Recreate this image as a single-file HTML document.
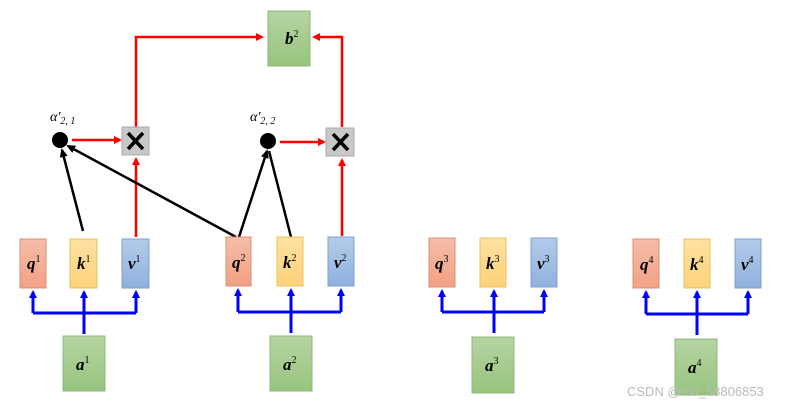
<!DOCTYPE html>
<html><head><style>
body{margin:0;background:#fff;}
svg text{font-family:"Liberation Serif",serif;}
</style></head><body>
<svg width="786" height="405" viewBox="0 0 786 405" xmlns="http://www.w3.org/2000/svg">
<defs>
<linearGradient id="gq" x1="0" y1="0" x2="0" y2="1"><stop offset="0" stop-color="#f5bda8"/><stop offset="1" stop-color="#f2a184"/></linearGradient>
<linearGradient id="gk" x1="0" y1="0" x2="0" y2="1"><stop offset="0" stop-color="#ffe1a0"/><stop offset="1" stop-color="#fdd27a"/></linearGradient>
<linearGradient id="gv" x1="0" y1="0" x2="0" y2="1"><stop offset="0" stop-color="#b4cbe9"/><stop offset="1" stop-color="#8fb1de"/></linearGradient>
<linearGradient id="ga" x1="0" y1="0" x2="0" y2="1"><stop offset="0" stop-color="#b5d4a2"/><stop offset="1" stop-color="#98c47f"/></linearGradient>
<marker id="ab" markerWidth="8" markerHeight="8" refX="6" refY="4" orient="auto" markerUnits="userSpaceOnUse"><path d="M0,0 L8,4 L0,8 Z" fill="#0000ff"/></marker>
<marker id="ar" markerWidth="8" markerHeight="8" refX="6" refY="4" orient="auto" markerUnits="userSpaceOnUse"><path d="M0,0 L8,4 L0,8 Z" fill="#ff0000"/></marker>
<marker id="ak" markerWidth="9" markerHeight="8" refX="7" refY="4" orient="auto" markerUnits="userSpaceOnUse"><path d="M0,0 L9,4 L0,8 Z" fill="#000"/></marker>
</defs>
<g fill="none" stroke="#0000ff" stroke-width="3">
<path d="M33,313 H136 M33,313 V292 M84,334 V292 M136,313 V292" marker-end="url(#ab)"/>
<path d="M33,313 V292" marker-end="url(#ab)"/><path d="M84,334 V292" marker-end="url(#ab)"/><path d="M136,313 V292" marker-end="url(#ab)"/>
<path d="M238,312 H341"/><path d="M238,312 V290" marker-end="url(#ab)"/><path d="M291,333 V290" marker-end="url(#ab)"/><path d="M341,312 V290" marker-end="url(#ab)"/>
<path d="M442,312 H544"/><path d="M442,312 V291" marker-end="url(#ab)"/><path d="M494,333 V291" marker-end="url(#ab)"/><path d="M544,312 V291" marker-end="url(#ab)"/>
<path d="M646,314 H748"/><path d="M646,314 V292" marker-end="url(#ab)"/><path d="M697,335 V292" marker-end="url(#ab)"/><path d="M748,314 V292" marker-end="url(#ab)"/>
</g>
<g fill="none" stroke="#ff0000" stroke-width="2.5">
<path d="M136,237 V159" marker-end="url(#ar)"/>
<path d="M136,127 V37 H262" marker-end="url(#ar)"/>
<path d="M342,127 V37 H314" marker-end="url(#ar)"/>
<path d="M72,140 H120" marker-end="url(#ar)"/>
<path d="M280,142 H324" marker-end="url(#ar)"/>
<path d="M342,236 V160" marker-end="url(#ar)"/>
</g>
<g fill="none" stroke="#000" stroke-width="2.5">
<path d="M83,231 L62,150" marker-end="url(#ak)"/>
<path d="M236,237 L68,146" marker-end="url(#ak)"/>
<path d="M239,237 L267,151" marker-end="url(#ak)"/>
<path d="M291,237 L269,151"/>
</g>
<circle cx="60" cy="140" r="8" fill="#000"/>
<circle cx="268" cy="141" r="8" fill="#000"/>
<g stroke="#aaa" fill="#c8c8c8"><rect x="122" y="127" width="27" height="28"/><rect x="326" y="128" width="28" height="28"/></g>
<g stroke="#000" stroke-width="3.5"><path d="M128,133 L143,149 M143,133 L128,149"/><path d="M333,134 L348,150 M348,134 L333,150"/></g>
<g font-style="italic" font-size="14"><text x="50" y="121">α′<tspan font-size="10" dy="3">2, 1</tspan></text><text x="250" y="121">α′<tspan font-size="10" dy="3">2, 2</tspan></text></g>
<g stroke-width="1">
<rect x="268" y="11" width="42" height="55" fill="url(#ga)" stroke="#8fb87a"/>
<rect x="20" y="239" width="26" height="49" fill="url(#gq)" stroke="#d99078"/>
<rect x="70" y="239" width="27" height="49" fill="url(#gk)" stroke="#e8c060"/>
<rect x="122" y="239" width="27" height="49" fill="url(#gv)" stroke="#7ea0cc"/>
<rect x="226" y="237" width="25" height="49" fill="url(#gq)" stroke="#d99078"/>
<rect x="277" y="237" width="26" height="49" fill="url(#gk)" stroke="#e8c060"/>
<rect x="328" y="237" width="26" height="49" fill="url(#gv)" stroke="#7ea0cc"/>
<rect x="429" y="238" width="26" height="49" fill="url(#gq)" stroke="#d99078"/>
<rect x="480" y="238" width="26" height="49" fill="url(#gk)" stroke="#e8c060"/>
<rect x="531" y="238" width="26" height="49" fill="url(#gv)" stroke="#7ea0cc"/>
<rect x="633" y="239" width="26" height="49" fill="url(#gq)" stroke="#d99078"/>
<rect x="684" y="239" width="26" height="49" fill="url(#gk)" stroke="#e8c060"/>
<rect x="735" y="239" width="26" height="49" fill="url(#gv)" stroke="#7ea0cc"/>
<rect x="63" y="336" width="42" height="55" fill="url(#ga)" stroke="#8fb87a"/>
<rect x="270" y="336" width="42" height="55" fill="url(#ga)" stroke="#8fb87a"/>
<rect x="472" y="337" width="42" height="56" fill="url(#ga)" stroke="#8fb87a"/>
<rect x="675" y="339" width="42" height="56" fill="url(#ga)" stroke="#8fb87a"/>
</g>
<g font-style="italic" font-weight="bold" font-size="17" fill="#000">
<text x="285" y="44">b<tspan font-size="10" font-weight="normal" font-style="normal" dy="-7">2</tspan></text>
<text x="27" y="269">q<tspan font-size="10" font-weight="normal" font-style="normal" dy="-7">1</tspan></text>
<text x="77" y="269">k<tspan font-size="10" font-weight="normal" font-style="normal" dy="-7">1</tspan></text>
<text x="128" y="269">v<tspan font-size="10" font-weight="normal" font-style="normal" dy="-7">1</tspan></text>
<text x="232" y="268">q<tspan font-size="10" font-weight="normal" font-style="normal" dy="-7">2</tspan></text>
<text x="283" y="268">k<tspan font-size="10" font-weight="normal" font-style="normal" dy="-7">2</tspan></text>
<text x="334" y="268">v<tspan font-size="10" font-weight="normal" font-style="normal" dy="-7">2</tspan></text>
<text x="435" y="269">q<tspan font-size="10" font-weight="normal" font-style="normal" dy="-7">3</tspan></text>
<text x="486" y="269">k<tspan font-size="10" font-weight="normal" font-style="normal" dy="-7">3</tspan></text>
<text x="537" y="269">v<tspan font-size="10" font-weight="normal" font-style="normal" dy="-7">3</tspan></text>
<text x="640" y="270">q<tspan font-size="10" font-weight="normal" font-style="normal" dy="-7">4</tspan></text>
<text x="690" y="270">k<tspan font-size="10" font-weight="normal" font-style="normal" dy="-7">4</tspan></text>
<text x="741" y="270">v<tspan font-size="10" font-weight="normal" font-style="normal" dy="-7">4</tspan></text>
<text x="76" y="370">a<tspan font-size="10" font-weight="normal" font-style="normal" dy="-7">1</tspan></text>
<text x="283" y="370">a<tspan font-size="10" font-weight="normal" font-style="normal" dy="-7">2</tspan></text>
<text x="485" y="371">a<tspan font-size="10" font-weight="normal" font-style="normal" dy="-7">3</tspan></text>
<text x="688" y="373">a<tspan font-size="10" font-weight="normal" font-style="normal" dy="-7">4</tspan></text>
</g>
<text x="627" y="396" font-family="Liberation Sans,sans-serif" font-size="13" fill="#bbb" style="font-family:'Liberation Sans',sans-serif">CSDN @m0_58806853</text>
</svg>
</body></html>
